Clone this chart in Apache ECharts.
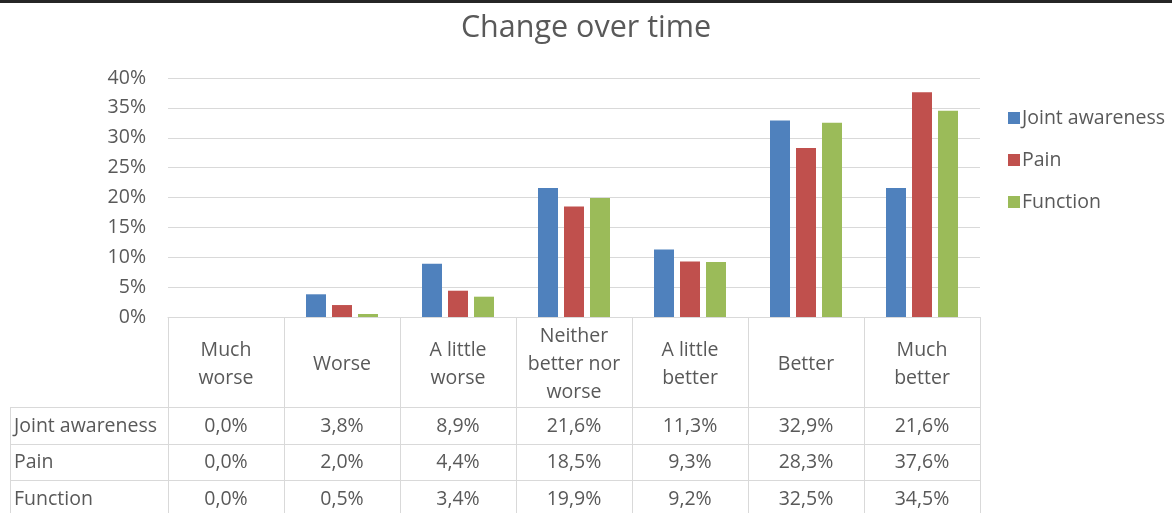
<!DOCTYPE html>
<html>
<head>
<meta charset="utf-8">
<script src="https://cdn.jsdelivr.net/npm/echarts@6/dist/echarts.min.js"></script>
<style>
  html, body { margin: 0; padding: 0; background: #fff; }
  #chart { width: 1172px; height: 513px; }
</style>
</head>
<body>
<div id="chart"></div>
<script>
// Survey responses: change over time, by outcome measure (percent of patients)
const categories = ['Much\nworse', 'Worse', 'A little\nworse', 'Neither\nbetter nor\nworse', 'A little\nbetter', 'Better', 'Much\nbetter'];
const seriesNames = ['Joint awareness', 'Pain', 'Function'];
const jointAwareness = [0.0, 3.8, 8.9, 21.6, 11.3, 32.9, 21.6];
const pain = [0.0, 2.0, 4.4, 18.5, 9.3, 28.3, 37.6];
const functionScore = [0.0, 0.5, 3.4, 19.9, 9.2, 32.5, 34.5];
const yTicks = [0, 5, 10, 15, 20, 25, 30, 35, 40];

const seriesData = [jointAwareness, pain, functionScore];
const colors = ['#4f81bd', '#c0504d', '#9bbb59'];
const textColor = '#595959';
const lineColor = '#d9d9d9';
const fontFamily = '"Open Sans", "Noto Sans", sans-serif';
const fontSize = 19.5;

const chart = echarts.init(document.getElementById('chart'), null, { renderer: 'canvas' });

const GRID = { left: 168, right: 192, top: 78, bottom: 196 };

chart.setOption({
  animation: false,
  backgroundColor: '#ffffff',
  textStyle: { fontFamily: fontFamily, color: textColor },
  title: {
    text: 'Change over time',
    left: 'center',
    top: 8,
    textStyle: { fontFamily: fontFamily, fontWeight: 'normal', fontSize: 30.5, color: textColor }
  },
  color: colors,
  legend: {
    orient: 'vertical',
    left: 1003,
    top: 103,
    itemWidth: 12,
    itemHeight: 12,
    itemGap: 22,
    icon: 'rect',
    data: seriesNames,
    textStyle: { fontFamily: fontFamily, fontSize: fontSize, color: textColor, padding: [0, 0, 0, -3] }
  },
  grid: GRID,
  xAxis: {
    type: 'category',
    data: categories,
    axisLine: { show: true, lineStyle: { color: lineColor, width: 1 } },
    axisTick: { show: true, length: GRID.bottom, lineStyle: { color: lineColor, width: 1 } },
    axisLabel: {
      interval: 0,
      margin: 47,
      verticalAlign: 'middle',
      lineHeight: 28,
      fontSize: fontSize,
      color: textColor,
      fontFamily: fontFamily,
      align: 'center'
    }
  },
  yAxis: {
    type: 'value',
    min: yTicks[0],
    max: yTicks[yTicks.length - 1],
    interval: yTicks[1] - yTicks[0],
    axisLine: { show: false },
    axisTick: { show: false },
    splitLine: { lineStyle: { color: lineColor, width: 1 } },
    axisLabel: {
      margin: 22,
      fontSize: fontSize,
      color: textColor,
      fontFamily: fontFamily,
      formatter: v => v + '%'
    }
  },
  series: seriesNames.map((name, i) => ({
    name: name,
    type: 'bar',
    data: seriesData[i],
    barWidth: 20,
    barGap: '30%',
    itemStyle: { color: colors[i] }
  }))
});

// Data table below the axis: rows of values aligned to category columns
function buildTable() {
  const graphics = [];
  const width = chart.getWidth();
  const height = chart.getHeight();
  const axisY = chart.convertToPixel({ yAxisIndex: 0 }, 0);
  const gridRight = width - GRID.right;
  const tableLeft = 10;
  const headerBottom = axisY + 90;
  const rowH = 36.5;

  // top frame line
  graphics.push({
    type: 'rect', shape: { x: 0, y: 0, width: width, height: 3 },
    style: { fill: '#262626' }, silent: true
  });

  // horizontal row lines
  for (let r = 0; r < seriesNames.length; r++) {
    const y = Math.round(headerBottom + r * rowH) + 0.5;
    graphics.push({
      type: 'line', shape: { x1: tableLeft, y1: y, x2: gridRight, y2: y },
      style: { stroke: lineColor, lineWidth: 1 }, silent: true
    });
  }
  // left edge of the row-label column
  graphics.push({
    type: 'line', shape: { x1: tableLeft + 0.5, y1: Math.round(headerBottom), x2: tableLeft + 0.5, y2: height },
    style: { stroke: lineColor, lineWidth: 1 }, silent: true
  });

  seriesNames.forEach((name, r) => {
    const cy = headerBottom + r * rowH + rowH / 2 + 1;
    graphics.push({
      type: 'text', x: tableLeft + 4, y: cy,
      style: { text: name, fontSize: fontSize, fontFamily: fontFamily, fill: textColor, align: 'left', verticalAlign: 'middle' },
      silent: true
    });
    seriesData[r].forEach((v, c) => {
      const cx = chart.convertToPixel({ xAxisIndex: 0 }, c);
      graphics.push({
        type: 'text', x: cx, y: cy,
        style: {
          text: v.toFixed(1).replace('.', ',') + '%',
          fontSize: fontSize, fontFamily: fontFamily, fill: textColor, align: 'center', verticalAlign: 'middle'
        },
        silent: true
      });
    });
  });

  chart.setOption({ graphic: graphics });
}
buildTable();
</script>
</body>
</html>
